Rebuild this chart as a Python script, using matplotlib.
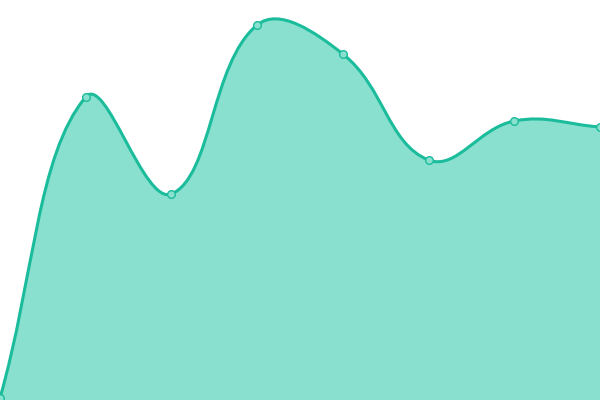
import numpy as np
import matplotlib
matplotlib.use("Agg")
import matplotlib.pyplot as plt
from matplotlib.path import Path
from matplotlib.patches import PathPatch

# データ（y は 0〜400 のスケールで読んだ値）
labels = ["p0", "p1", "p2", "p3", "p4", "p5", "p6", "p7"]
values = [2, 303, 206, 375, 346, 240, 279, 273]

LINE_COLOR = "#1abc9c"
FILL_COLOR = "#8ae0cf"
TENSION = 0.4

fig = plt.figure(figsize=(6, 4), dpi=100)
ax = fig.add_axes([0, 0, 1, 1])
ax.set_xlim(0, len(values) - 1)
ax.set_ylim(0, 400)
ax.axis("off")

# 画面座標でスプラインの制御点を求める（Chart.js 風）
xs = np.arange(len(values))
pts = ax.transData.transform(np.column_stack([xs, values]))
x0, y0 = ax.transData.transform((0, 0))
x1, y1 = ax.transData.transform((len(values) - 1, 400))

cps = []
for i in range(len(pts)):
    cur = pts[i]
    prev = pts[i - 1] if i > 0 else cur
    nxt = pts[i + 1] if i < len(pts) - 1 else cur
    d01 = np.hypot(*(cur - prev))
    d12 = np.hypot(*(nxt - cur))
    tot = d01 + d12
    s01 = d01 / tot if tot else 0
    s12 = d12 / tot if tot else 0
    fa = TENSION * s01
    fb = TENSION * s12
    cp_prev = cur - fa * (nxt - prev)
    cp_next = cur + fb * (nxt - prev)
    cp_prev = np.clip(cp_prev, [x0, y0], [x1, y1])
    cp_next = np.clip(cp_next, [x0, y0], [x1, y1])
    cps.append((cp_prev, cp_next))

verts = [pts[0]]
codes = [Path.MOVETO]
for i in range(1, len(pts)):
    verts += [cps[i - 1][1], cps[i][0], pts[i]]
    codes += [Path.CURVE4] * 3

inv = ax.transData.inverted()
verts_d = inv.transform(np.array(verts))

line_path = Path(verts_d, codes)
fill_verts = np.vstack([verts_d, [[len(values) - 1, 0], [0, 0], verts_d[0]]])
fill_codes = codes + [Path.LINETO, Path.LINETO, Path.CLOSEPOLY]
fill_path = Path(fill_verts, fill_codes)

ax.add_patch(PathPatch(fill_path, facecolor=FILL_COLOR, edgecolor="none"))
ax.add_patch(PathPatch(line_path, facecolor="none", edgecolor=LINE_COLOR, lw=2.2))
ax.plot(xs, values, "o", ms=5.5, mfc=FILL_COLOR, mec=LINE_COLOR, mew=1.0)

fig.savefig("out.png", dpi=100)
